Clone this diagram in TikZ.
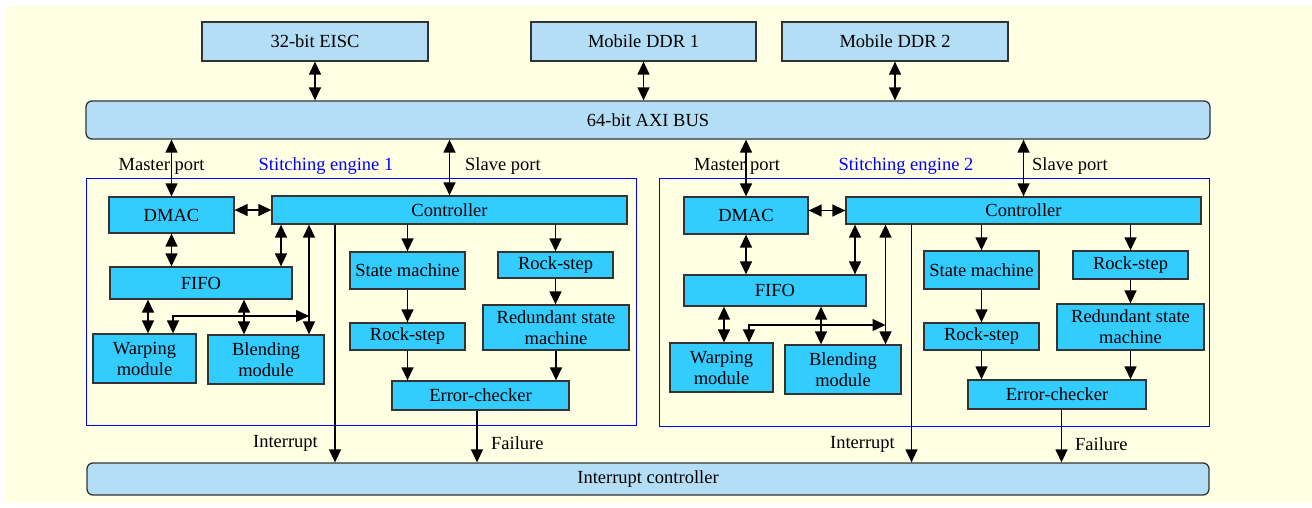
\documentclass[tikz,border=0pt]{standalone}
\usepackage{fontspec}
\setmainfont{Liberation Serif}
\usetikzlibrary{arrows.meta}

\definecolor{cream}{HTML}{FFFFE4}
\definecolor{busblue}{HTML}{B4DDF6}
\definecolor{unitcyan}{HTML}{33CCFF}
\definecolor{edgegray}{HTML}{333333}
\definecolor{engblue}{HTML}{0000FF}

\tikzset{
  every node/.style={font=\fontsize{18.5}{21}\selectfont},
  extbox/.style={draw=edgegray, line width=1.3pt, fill=busblue, inner sep=0pt},
  busbox/.style={extbox, rounded corners=6pt},
  unitbox/.style={draw=edgegray, line width=1.3pt, fill=unitcyan, inner sep=0pt, align=center},
  engframe/.style={draw=engblue, line width=1pt},
  lbl/.style={inner sep=0pt},
  englbl/.style={inner sep=0pt, text=engblue},
  tip/.style={-{Triangle[length=13pt,width=12pt]}},
  dtip/.style={{Triangle[length=13pt,width=12pt]}-{Triangle[length=13pt,width=12pt]}},
  wire/.style={line width=1.4pt, draw=black},
}

\begin{document}
\begin{tikzpicture}[x=1pt, y=-1pt]
\useasboundingbox (0,0) rectangle (1312,508);
\fill[white] (0,0) rectangle (1312,508);
\fill[cream] (5,6) rectangle (1312,503);

% ---------- system level ----------
\node[extbox, minimum width=226, minimum height=39] (eisc) at (315,41.5) {32-bit EISC};
\node[extbox, minimum width=225, minimum height=39] (ddr1) at (643.5,41.5) {Mobile DDR 1};
\node[extbox, minimum width=226, minimum height=39] (ddr2) at (895,41.5) {Mobile DDR 2};
\node[busbox, minimum width=1124, minimum height=38] (axi) at (648,120) {64-bit AXI BUS};
\node[busbox, minimum width=1122, minimum height=32] (intc) at (648,479) {Interrupt controller};

% ---------- engine frames ----------
\draw[engframe] (86,178) rectangle (636,425);
\draw[engframe] (659,178) rectangle (1209,426);

% ---------- engine 1 units ----------
\node[unitbox, minimum width=125, minimum height=36] (dmacA) at (171.5,215) {DMAC};
\node[unitbox, minimum width=355, minimum height=28] (ctrlA) at (449.5,210) {Controller};
\node[unitbox, minimum width=182, minimum height=32] (fifoA) at (201,283) {FIFO};
\node[unitbox, minimum width=103, minimum height=49] (warpA) at (144.5,358.5) {Warping\\module};
\node[unitbox, minimum width=116, minimum height=49] (blendA) at (266,359.5) {Blending\\module};
\node[unitbox, minimum width=115, minimum height=37] (smA) at (407.5,270.5) {State machine};
\node[unitbox, minimum width=115, minimum height=27] (rsA) at (407.5,336.5) {Rock-step};
\node[unitbox, minimum width=177, minimum height=29] (ecA) at (480.5,395.5) {Error-checker};
\node[unitbox, minimum width=115, minimum height=26] (rrA) at (555.5,265) {Rock-step};
\node[unitbox, minimum width=146, minimum height=45] (rsmA) at (556,327.5) {Redundant state\\machine};

% ---------- engine 2 units ----------
\node[unitbox, minimum width=124, minimum height=37] (dmacB) at (746,215.5) {DMAC};
\node[unitbox, minimum width=355, minimum height=27] (ctrlB) at (1023.5,210.5) {Controller};
\node[unitbox, minimum width=182, minimum height=31] (fifoB) at (775,290.5) {FIFO};
\node[unitbox, minimum width=103, minimum height=49] (warpB) at (721.5,367.5) {Warping\\module};
\node[unitbox, minimum width=116, minimum height=49] (blendB) at (843,369.5) {Blending\\module};
\node[unitbox, minimum width=115, minimum height=38] (smB) at (981.5,270) {State machine};
\node[unitbox, minimum width=115, minimum height=27] (rsB) at (981.5,336.5) {Rock-step};
\node[unitbox, minimum width=178, minimum height=29] (ecB) at (1057,394.5) {Error-checker};
\node[unitbox, minimum width=115, minimum height=28] (rrB) at (1130.5,265) {Rock-step};
\node[unitbox, minimum width=147, minimum height=46] (rsmB) at (1130.5,327) {Redundant state\\machine};

% ---------- labels ----------
\node[lbl] (mpA) at (161.5,166) {Master port};
\node[englbl] (seA) at (326,166) {Stitching engine 1};
\node[lbl, anchor=west] (spA) at (465,166) {Slave port};
\node[lbl] (mpB) at (737,166) {Master port};
\node[englbl] (seB) at (906,166) {Stitching engine 2};
\node[lbl, anchor=west] (spB) at (1032,166) {Slave port};
\node[lbl] (irA) at (285.5,443) {Interrupt};
\node[lbl, anchor=west] (flA) at (491,443) {Failure};
\node[lbl] (irB) at (862.5,444) {Interrupt};
\node[lbl, anchor=west] (flB) at (1075,444) {Failure};

% ---------- wiring columns ----------
\coordinate (cfA) at (281,0);
\coordinate (cbA) at (309,0);
\coordinate (fwA) at (148,0);
\coordinate (fbA) at (244,0);
\coordinate (wjA) at (173,0);
\coordinate (iA) at (335,0);
\coordinate (fA) at (477,0);
\coordinate (jA) at (309,316);

\coordinate (cfB) at (855,0);
\coordinate (cbB) at (885.5,0);
\coordinate (fwB) at (724,0);
\coordinate (fbB) at (821,0);
\coordinate (wjB) at (749,0);
\coordinate (iB) at (911.5,0);
\coordinate (fB) at (1061.5,0);
\coordinate (jB) at (885.5,325);

% ---------- system connectors ----------
\draw[wire, dtip] (eisc.south) -- (eisc.south |- axi.north);
\draw[wire, dtip] (ddr1.south) -- (ddr1.south |- axi.north);
\draw[wire, dtip] (ddr2.south) -- (ddr2.south |- axi.north);

% ---------- engine 1 connectors ----------
\draw[wire, dtip] (axi.south -| dmacA) -- (dmacA.north);
\draw[wire, dtip] (axi.south -| ctrlA) -- (ctrlA.north);
\draw[wire, dtip] (ctrlA.west -| dmacA.east) -- (ctrlA.west);
\draw[wire, dtip] (dmacA.south) -- (dmacA.south |- fifoA.north);
\draw[wire, dtip] (ctrlA.south -| cfA) -- (fifoA.north -| cfA);
\draw[wire, dtip] (ctrlA.south -| cbA) -- (blendA.north -| cbA);
\draw[wire, dtip] (fifoA.south -| fwA) -- (warpA.north -| fwA);
\draw[wire, dtip] (fifoA.south -| fbA) -- (blendA.north -| fbA);
\draw[wire, dtip] (jA) -| (warpA.north -| wjA);
\draw[wire, tip] (ctrlA.south -| iA) -- (intc.north -| iA);
\draw[wire, tip] (ctrlA.south -| smA) -- (smA.north);
\draw[wire, tip] (smA.south) -- (rsA.north);
\draw[wire, tip] (rsA.south) -- (rsA.south |- ecA.north);
\draw[wire, tip] (ctrlA.south -| rrA) -- (rrA.north);
\draw[wire, tip] (rrA.south) -- (rrA.south |- rsmA.north);
\draw[wire, tip] (rsmA.south) -- (rsmA.south |- ecA.north);
\draw[wire, tip] (ecA.south -| fA) -- (intc.north -| fA);

% ---------- engine 2 connectors ----------
\draw[wire, dtip] (axi.south -| dmacB) -- (dmacB.north);
\draw[wire, dtip] (axi.south -| ctrlB) -- (ctrlB.north);
\draw[wire, dtip] (ctrlB.west -| dmacB.east) -- (ctrlB.west);
\draw[wire, dtip] (dmacB.south) -- (dmacB.south |- fifoB.north);
\draw[wire, dtip] (ctrlB.south -| cfB) -- (fifoB.north -| cfB);
\draw[wire, dtip] (ctrlB.south -| cbB) -- (blendB.north -| cbB);
\draw[wire, dtip] (fifoB.south -| fwB) -- (warpB.north -| fwB);
\draw[wire, dtip] (fifoB.south -| fbB) -- (blendB.north -| fbB);
\draw[wire, dtip] (jB) -| (warpB.north -| wjB);
\draw[wire, tip] (ctrlB.south -| iB) -- (intc.north -| iB);
\draw[wire, tip] (ctrlB.south -| smB) -- (smB.north);
\draw[wire, tip] (smB.south) -- (rsB.north);
\draw[wire, tip] (rsB.south) -- (rsB.south |- ecB.north);
\draw[wire, tip] (ctrlB.south -| rrB) -- (rrB.north);
\draw[wire, tip] (rrB.south) -- (rrB.south |- rsmB.north);
\draw[wire, tip] (rsmB.south) -- (rsmB.south |- ecB.north);
\draw[wire, tip] (ecB.south -| fB) -- (intc.north -| fB);
\end{tikzpicture}
\end{document}
